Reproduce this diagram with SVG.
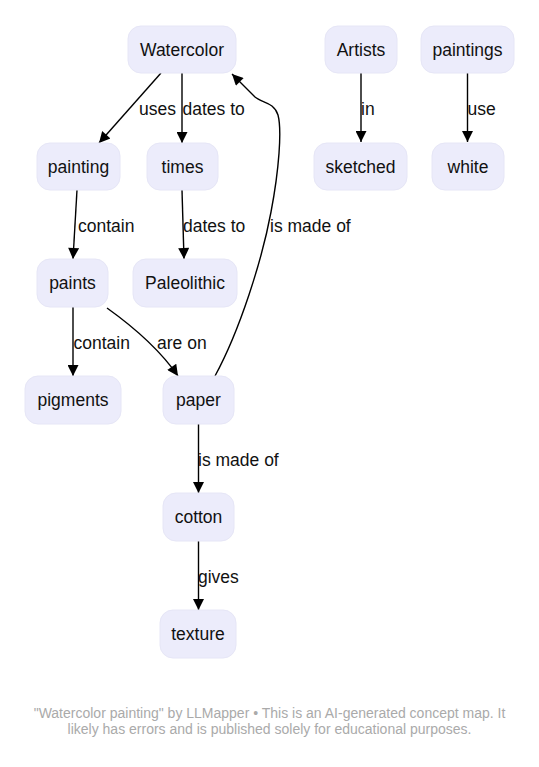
<svg xmlns="http://www.w3.org/2000/svg" width="539" height="767" viewBox="0 0 539 767">
<style>
.node rect{fill:#ececfb;stroke:#e6e6f6;stroke-width:1}
.node text{font-family:"Liberation Sans",Arial,sans-serif;font-size:17.5px;fill:#111;text-anchor:middle}
.edge path{fill:none;stroke:#000;stroke-width:1.4}
.lbl{font-family:"Liberation Sans",Arial,sans-serif;font-size:17.5px;fill:#111}
.foot{font-family:"Liberation Sans",Arial,sans-serif;font-size:14px;fill:#aaaaaa;text-anchor:middle}
</style>
<defs>
<marker id="arr" viewBox="0 0 10 10" refX="10" refY="5" markerWidth="13" markerHeight="11" markerUnits="userSpaceOnUse" orient="auto">
<path d="M0,0 L10,5 L0,10 z" fill="#000"/>
</marker>
</defs>
<rect width="539" height="767" fill="#fff"/>
<g id="connectors" class="edge">
<path d="M161,73 L99,143" marker-end="url(#arr)"/>
<path d="M182,73 L182,143" marker-end="url(#arr)"/>
<path d="M361,73 L361,142" marker-end="url(#arr)"/>
<path d="M467.5,73 L467.5,142" marker-end="url(#arr)"/>
<path d="M77,190 L73,259" marker-end="url(#arr)"/>
<path d="M182,190 L184,259" marker-end="url(#arr)"/>
<path d="M73,307 L73,376" marker-end="url(#arr)"/>
<path d="M107,308 C135,328 160,350 178,376" marker-end="url(#arr)"/>
<path d="M215,376 C240,330 262,260 271,212 C279,170 282,130 278,115 C274,102 262,103 255,97 L232,74" marker-end="url(#arr)"/>
<path d="M198.5,424 L198.5,493" marker-end="url(#arr)"/>
<path d="M198.5,541 L198.5,610" marker-end="url(#arr)"/>
<text class="lbl" x="139" y="115">uses</text>
<text class="lbl" x="182.5" y="115">dates to</text>
<text class="lbl" x="361" y="115">in</text>
<text class="lbl" x="467.5" y="115">use</text>
<text class="lbl" x="78" y="232">contain</text>
<text class="lbl" x="183" y="232">dates to</text>
<text class="lbl" x="270" y="232">is made of</text>
<text class="lbl" x="73.5" y="349">contain</text>
<text class="lbl" x="157" y="349">are on</text>
<text class="lbl" x="198" y="466">is made of</text>
<text class="lbl" x="198" y="583">gives</text>
</g>
<g id="n-watercolor" class="node"><rect x="128" y="26" width="108" height="47" rx="13"/><text x="182" y="55.5">Watercolor</text></g>
<g id="n-artists" class="node"><rect x="325" y="26" width="72" height="47" rx="13"/><text x="361" y="55.5">Artists</text></g>
<g id="n-paintings" class="node"><rect x="421" y="26" width="93" height="47" rx="13"/><text x="467.5" y="55.5">paintings</text></g>
<g id="n-painting" class="node"><rect x="37" y="143" width="83" height="47" rx="13"/><text x="78.5" y="172.5">painting</text></g>
<g id="n-times" class="node"><rect x="147" y="143" width="71" height="47" rx="13"/><text x="182.5" y="172.5">times</text></g>
<g id="n-sketched" class="node"><rect x="314" y="143" width="93" height="47" rx="13"/><text x="360.5" y="172.5">sketched</text></g>
<g id="n-white" class="node"><rect x="432" y="143" width="72" height="47" rx="13"/><text x="468" y="172.5">white</text></g>
<g id="n-paints" class="node"><rect x="37" y="259" width="71" height="48" rx="13"/><text x="72.5" y="289">paints</text></g>
<g id="n-paleolithic" class="node"><rect x="133" y="259" width="104" height="48" rx="13"/><text x="185" y="289">Paleolithic</text></g>
<g id="n-pigments" class="node"><rect x="25" y="376" width="96" height="48" rx="13"/><text x="73" y="406">pigments</text></g>
<g id="n-paper" class="node"><rect x="163" y="376" width="71" height="48" rx="13"/><text x="198.5" y="406">paper</text></g>
<g id="n-cotton" class="node"><rect x="163" y="493" width="71" height="48" rx="13"/><text x="198.5" y="523">cotton</text></g>
<g id="n-texture" class="node"><rect x="160" y="610" width="76" height="48" rx="13"/><text x="198" y="640">texture</text></g>
<text class="foot" x="269.5" y="718">"Watercolor painting" by LLMapper • This is an AI-generated concept map. It</text>
<text class="foot" x="269.5" y="734">likely has errors and is published solely for educational purposes.</text>
</svg>
